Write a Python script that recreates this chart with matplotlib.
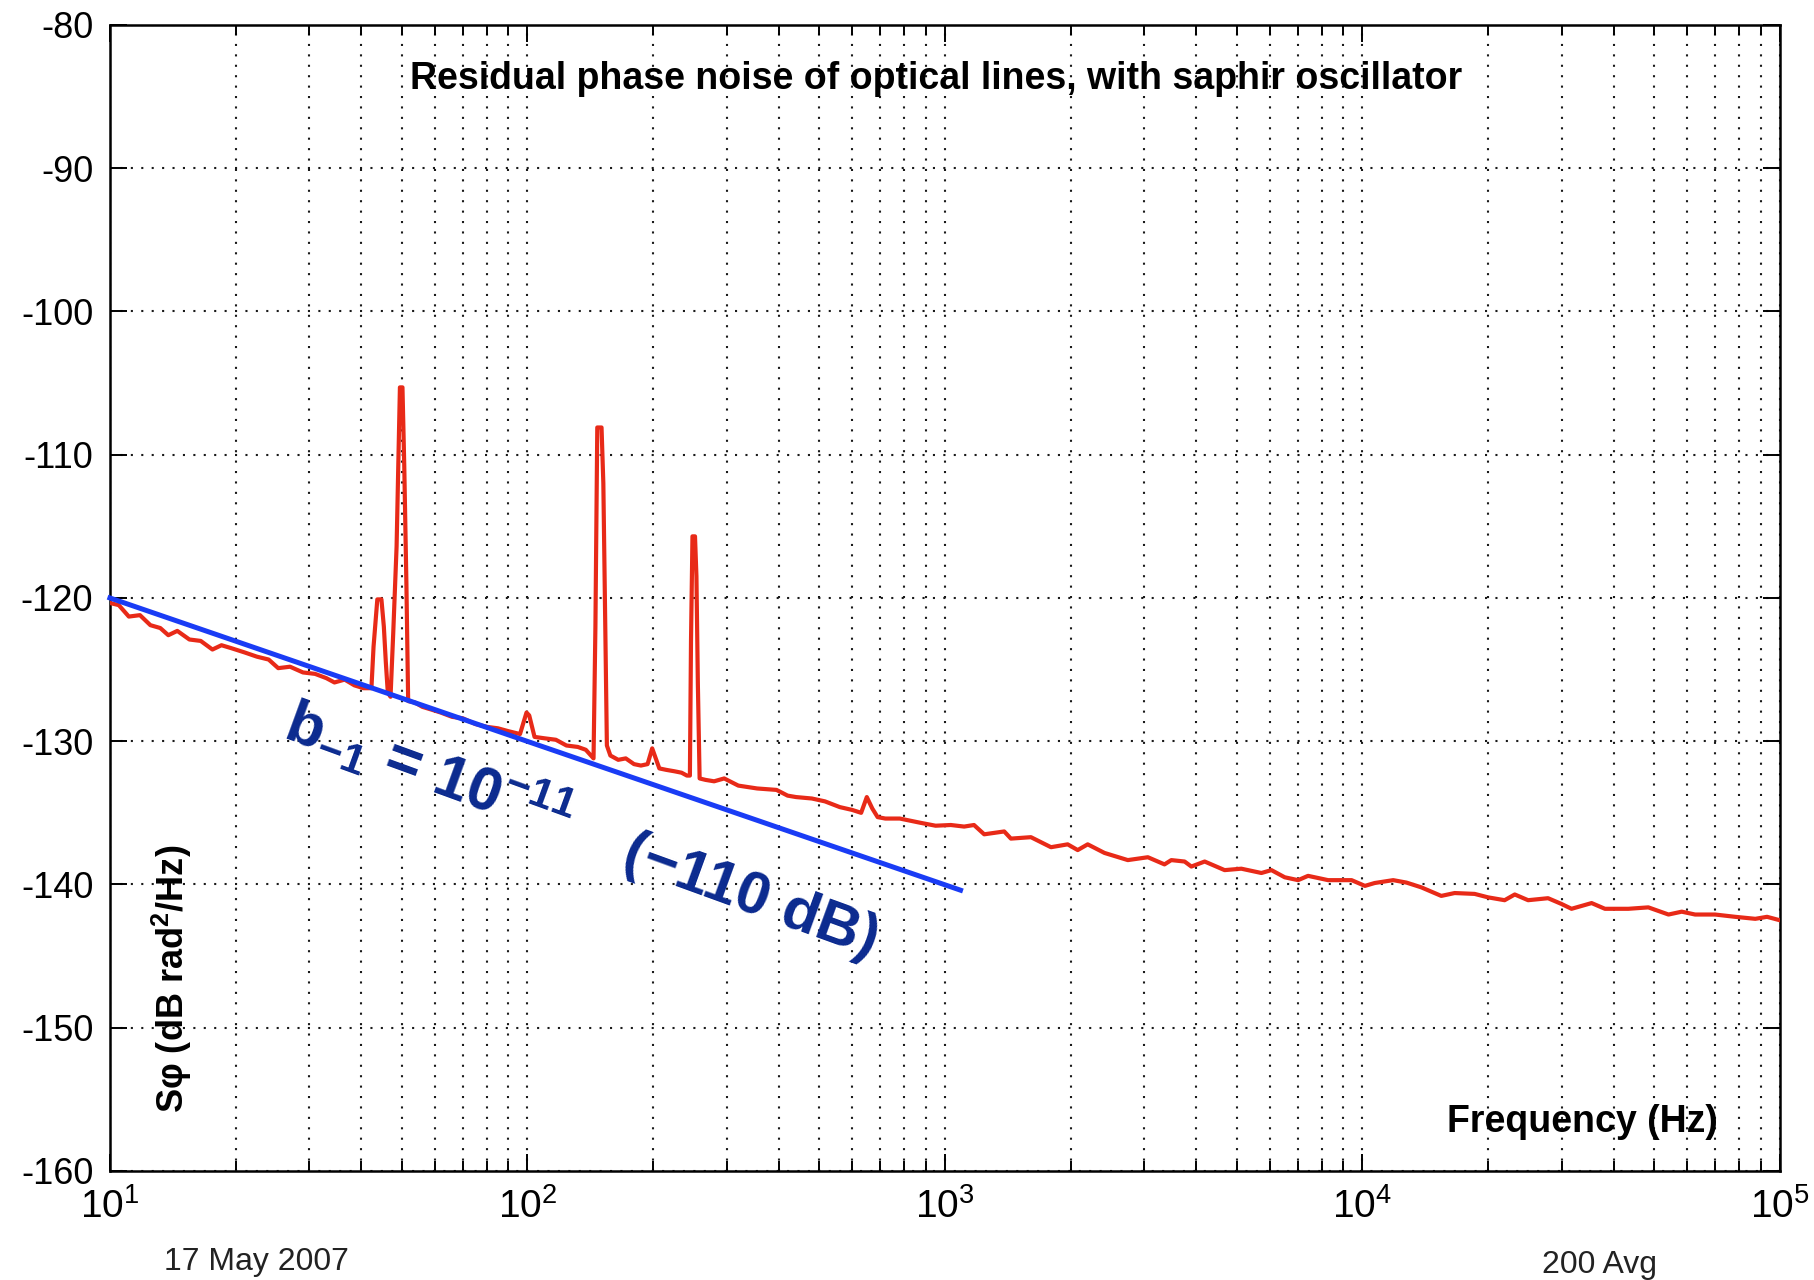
import matplotlib
matplotlib.use('Agg')
import matplotlib.pyplot as plt
from matplotlib.ticker import LogLocator, NullFormatter, FixedLocator

plt.rcParams['font.family'] = ['Liberation Sans', 'DejaVu Sans']
plt.rcParams['axes.unicode_minus'] = False
plt.rcParams['mathtext.fontset'] = 'custom'
plt.rcParams['mathtext.rm'] = 'Liberation Sans'
plt.rcParams['mathtext.bf'] = 'Liberation Sans:bold'
plt.rcParams['mathtext.it'] = 'Liberation Sans:italic'

# ---------------- data ----------------
freq_hz = [10.0, 10.5, 11.1, 11.8, 12.5, 13.2, 13.8, 14.5, 15.5, 16.5, 17.6, 18.5,
           19.5, 21.0, 22.5, 24.0, 25.3, 27.0, 29.0, 31.0, 33.0, 34.5, 36.5, 38.5,
           40.5, 42.3, 42.8, 43.7, 44.7, 45.3, 45.8, 46.3, 47.0, 47.7, 48.6, 49.5,
           50.2, 50.7, 51.3, 51.8, 53.8, 56.0, 59.0, 62.0, 66.0, 70.0, 75.0, 80.0,
           85.0, 90.0, 96.0, 99.5, 101.0, 104.0, 110.0, 117.0, 124.0, 132.0, 138.0,
           144.0, 145.5, 147.0, 150.5, 152.0, 153.5, 155.0, 158.0, 165.0, 172.0,
           180.0, 187.0, 194.0, 199.0, 203.0, 207.0, 215.0, 225.0, 234.0, 241.0,
           245.0, 246.5, 248.5, 252.0, 254.0, 256.0, 258.5, 267.0, 280.0, 296.0,
           320.0, 355.0, 395.0, 420.0, 440.0, 480.0, 516.0, 560.0, 600.0, 630.0,
           650.0, 670.0, 690.0, 720.0, 780.0, 875.0, 950.0, 1033, 1112, 1174, 1242,
           1387, 1439, 1607, 1795, 1968, 2080, 2198, 2411, 2742, 3063, 3357, 3485,
           3751, 3893, 4190, 4677, 5128, 5729, 6055, 6516, 7014, 7410, 8277, 9420,
           10140, 10700, 11850, 12750, 13830, 15450, 16630, 18570, 19990, 21910,
           23170, 24940, 27840, 29970, 31690, 35400, 38100, 43350, 48400, 54100,
           58200, 62650, 69960, 78150, 87300, 93150, 100000]
level_db = [-120.35, -120.5, -121.3, -121.2, -121.9, -122.1, -122.6, -122.3, -122.9,
            -123.0, -123.6, -123.3, -123.5, -123.8, -124.1, -124.3, -124.9, -124.8,
            -125.2, -125.3, -125.6, -125.9, -125.7, -126.1, -126.3, -126.3, -123.4,
            -120.1, -120.1, -122.0, -124.5, -126.6, -126.9, -122.5, -116.4, -105.3,
            -105.3, -110.8, -119.0, -127.2, -127.3, -127.6, -127.8, -128.0, -128.3,
            -128.4, -128.8, -129.0, -129.1, -129.3, -129.5, -128.0, -128.2, -129.7,
            -129.8, -129.9, -130.3, -130.4, -130.6, -131.2, -122.0, -108.1, -108.1,
            -112.0, -121.0, -130.3, -131.0, -131.3, -131.2, -131.6, -131.7, -131.6,
            -130.5, -131.2, -131.9, -132.0, -132.1, -132.2, -132.4, -132.4, -123.0,
            -115.7, -115.7, -118.5, -126.0, -132.6, -132.7, -132.8, -132.6, -133.1,
            -133.3, -133.4, -133.8, -133.9, -134.0, -134.2, -134.6, -134.8, -135.0,
            -133.9, -134.7, -135.3, -135.4, -135.4, -135.7, -135.9, -135.85, -135.96,
            -135.85, -136.5, -136.3, -136.8, -136.7, -137.4, -137.2, -137.6, -137.2,
            -137.8, -138.3, -138.1, -138.6, -138.3, -138.4, -138.75, -138.4, -139.0,
            -138.9, -139.2, -139.0, -139.5, -139.7, -139.4, -139.7, -139.7, -140.1,
            -139.9, -139.7, -139.87, -140.2, -140.8, -140.6, -140.66, -140.9, -141.1,
            -140.7, -141.1, -140.96, -141.36, -141.7, -141.3, -141.7, -141.7, -141.6,
            -142.1, -141.9, -142.1, -142.1, -142.26, -142.4, -142.26, -142.5]

# flicker (b_-1 = 1e-11, -110 dB) reference line end points
fit_freq_hz = [10.0, 1090.0]
fit_level_db = [-120.0, -140.4]

y_ticks = [-160, -150, -140, -130, -120, -110, -100, -90, -80]
title_text = 'Residual phase noise of optical lines, with saphir oscillator'
xlabel_text = 'Frequency (Hz)'
ylabel_text = 'S\u03c6 (dB rad$^{\\mathdefault{2}}$/Hz)'
b_text = r'b$_{\mathdefault{-1}}$ = 10$^{\mathdefault{-11}}$'
db_text = '(\u2212110 dB)'
date_text = '17 May 2007'
avg_text = '200 Avg'

# ---------------- figure ----------------
fig = plt.figure(figsize=(18.14, 12.8), dpi=100)
ax = fig.add_axes([0.0606, 0.0852, 0.9206, 0.8953])

ax.plot(freq_hz, level_db, color='#e82a18', lw=3.0, zorder=3)
ax.plot(fit_freq_hz, fit_level_db, color='#1a3cf5', lw=3.6, zorder=4, clip_on=False)

ax.set_xscale('log')
ax.set_xlim(10, 1e5)
ax.set_ylim(-160, -80)
ax.yaxis.set_major_locator(FixedLocator(y_ticks))
ax.xaxis.set_major_locator(LogLocator(base=10, numticks=10))
ax.xaxis.set_minor_locator(LogLocator(base=10, subs=range(2, 10), numticks=50))
ax.xaxis.set_minor_formatter(NullFormatter())

grid_kw = dict(color='#1a1a1a', linestyle=(0, (1, 4)), linewidth=1.5)
ax.grid(True, which='major', axis='both', **grid_kw)
ax.grid(True, which='minor', axis='x', **grid_kw)
ax.set_axisbelow(True)

for s in ax.spines.values():
    s.set_linewidth(1.8)
ax.tick_params(which='both', direction='in', top=True, right=True, width=1.4,
               labelsize=26, colors='black')
ax.tick_params(which='major', length=12, pad=12)
ax.tick_params(which='minor', length=7)
ax.tick_params(axis='x', which='major', labelsize=28, pad=12)

ax.text(0.4946, 0.944, title_text, transform=ax.transAxes, ha='center',
        va='baseline', fontsize=27, fontweight='bold')
ax.text(0.882, 0.034, xlabel_text, transform=ax.transAxes, ha='center',
        va='baseline', fontsize=27, fontweight='bold')
ax.text(0.037, 0.1675, ylabel_text, transform=ax.transAxes, ha='center',
        va='center', rotation=90, fontsize=26, fontweight='bold')

ax.text(58, -132.1, b_text, ha='center', va='center', rotation=-20,
        fontsize=44, fontweight='bold', color='#0b2a8f', rotation_mode='anchor')
ax.text(343, -140.9, db_text, ha='center', va='center', rotation=-20,
        fontsize=43, fontweight='bold', color='#0b2a8f', rotation_mode='anchor')

fig.text(0.1411, 0.0078, date_text, ha='center', va='baseline', fontsize=23,
         color='#222222')
fig.text(0.882, 0.0055, avg_text, ha='center', va='baseline', fontsize=23,
         color='#222222')

fig.savefig('out.png', dpi=100, facecolor='white')
